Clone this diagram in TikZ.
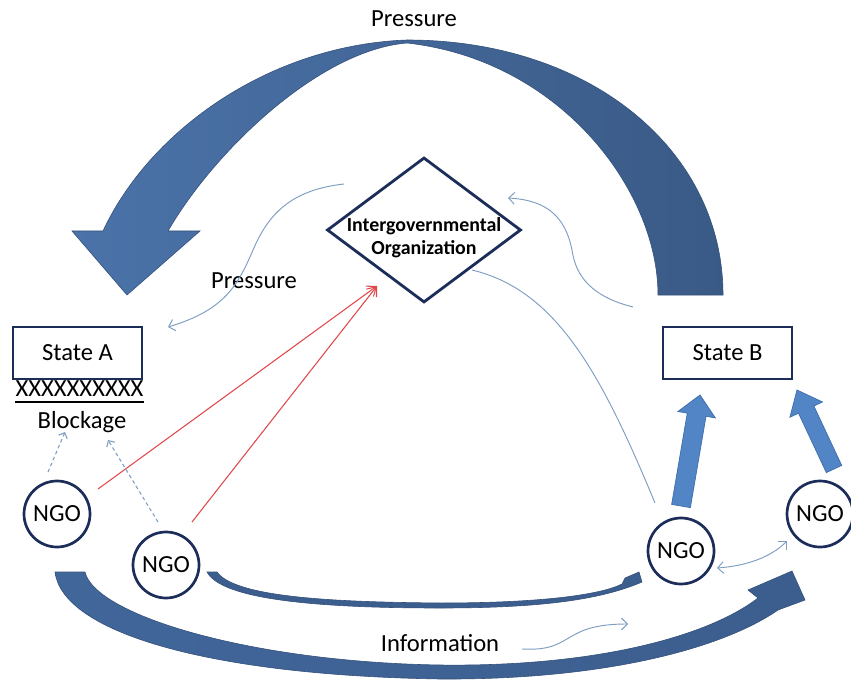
\documentclass[tikz,border=0pt]{standalone}
\usepackage{fontspec}
\setmainfont{Carlito}
\usetikzlibrary{shapes.geometric,calc,arrows.meta}
\definecolor{navy}{HTML}{1C2D5A}
\definecolor{arcL}{HTML}{4B73A9}
\definecolor{arcR}{HTML}{3A5A86}
\definecolor{arcEdge}{HTML}{34507A}
\definecolor{lowL}{HTML}{41669A}
\definecolor{lowR}{HTML}{3C5E8E}
\definecolor{brightblue}{HTML}{5185C6}
\definecolor{brightedge}{HTML}{3E6EAB}
\definecolor{thinblue}{HTML}{7E9DC2}
\definecolor{redline}{HTML}{E0484B}

% block arrow from base #1 to tip #2: shaft half width #3, head half width #4, head length #5
\newcommand\blockarr[5]{%
  \coordinate (hb) at ($(#2)!#5!(#1)$);
  \filldraw[fill=brightblue, draw=brightedge, line width=0.6pt]
    ($(#1)!#3!90:(#2)$) -- ($(hb)!#3!90:(#2)$) -- ($(hb)!#4!90:(#2)$) -- (#2)
    -- ($(hb)!#4!-90:(#2)$) -- ($(hb)!#3!-90:(#2)$) -- ($(#1)!#3!-90:(#2)$) -- cycle;}

\begin{document}
\begin{tikzpicture}[x=0.03cm,y=-0.03cm,
  txt/.style={font=\fontsize{21}{25}\selectfont, inner sep=0pt},
  statebox/.style={draw=navy, line width=2.4pt, minimum width=3.87cm,
    minimum height=1.56cm, inner sep=0pt, font=\fontsize{21}{25}\selectfont},
  ngo/.style={circle, draw=navy, line width=2.3pt, minimum size=1.98cm,
    inner sep=0pt, font=\fontsize{21}{25}\selectfont},
  thinarrow/.style={draw=thinblue, line width=0.8pt,
    -{Straight Barb[length=5pt,width=10pt]}},
  thinline/.style={draw=thinblue, line width=0.8pt},
  dasharrow/.style={draw=thinblue, line width=0.9pt, dash pattern=on 3pt off 2.5pt,
    -{Straight Barb[length=4pt,width=8pt]}},
  redarrow/.style={draw=redline, line width=0.9pt,
    -{Straight Barb[length=7pt,width=11pt]}},
  dualarrow/.style={draw=thinblue, line width=0.8pt,
    {Straight Barb[length=5pt,width=10pt]}-{Straight Barb[length=5pt,width=10pt]}}
]
\fill[white] (0,0) rectangle (851,683);
\useasboundingbox (0,0) rectangle (851,683);

% large curved pressure arrow over the top
\path[left color=arcL, right color=arcR, draw=arcEdge, line width=0.5pt]
  (723,295) .. controls (723,150) and (590,40) .. (407,40)
  .. controls (270,45) and (150,130) .. (103,231)
  -- (72,231) -- (127,295) -- (200,231) -- (168,231)
  .. controls (215,150) and (320,50) .. (407,43)
  .. controls (560,60) and (658,190) .. (658,295) -- cycle;
\node[txt] (ptop) at (414,19) {Pressure};

% lower information arrows
\path[left color=lowL, right color=lowR, draw=arcEdge, line width=0.5pt]
  (55,572) .. controls (62,630) and (200,675) .. (440,679)
  .. controls (600,680) and (720,650) .. (778,610)
  -- (805,600) -- (792,571) -- (748,590) -- (758,598)
  .. controls (710,635) and (600,667) .. (440,665)
  .. controls (250,662) and (95,615) .. (85,572) -- cycle;
\path[fill=lowR, draw=arcEdge, line width=0.5pt]
  (207,572) -- (217,572) .. controls (235,597) and (330,602) .. (440,603)
  .. controls (540,603) and (600,595) .. (622,584) -- (625,578) -- (639,572)
  -- (642,582) .. controls (600,600) and (540,608) .. (440,608)
  .. controls (320,608) and (222,600) .. (207,572) -- cycle;

% organisations
\node[draw=navy, line width=2.4pt, diamond, minimum width=5.82cm,
  minimum height=4.35cm, inner sep=0pt] (igo) at (424,230) {};
\node[font=\fontsize{17}{19.6}\selectfont\bfseries, align=center] (igotext)
  at (424,238) {Intergovernmental\\Organization};

\node[statebox] (sa) at (77.5,353) {State A};
\node[txt] (xx) at (79.5,389) {XXXXXXXXXX};
\draw[line width=1.6pt] ($(xx.south west)+(0,5)$) -- ($(xx.south east)+(0,5)$);
\node[txt] (bl) at (82,422) {Blockage};
\node[statebox] (sb) at (727.5,353) {State B};

\node[ngo] (n1) at (57,514) {NGO};
\node[ngo] (n2) at (166,565) {NGO};
\node[ngo] (n3) at (681,551) {NGO};
\node[ngo] (n4) at (820,514) {NGO};

\node[txt] (pmid) at (254,281) {Pressure};
\node[txt] (info) at (440,643) {Information};

% NGOs lobbying the organisation
\coordinate (igtip) at ($(igo)+(-47,56)$);
\draw[redarrow] ($(n1)+(41,-25)$) -- (igtip);
\draw[redarrow] ($(n2)+(26,-43)$) -- (igtip);

% blocked access to State A
\draw[dasharrow] ($(n1)+(-9,-42)$) -- ($(bl)+(-17,10)$);
\draw[dasharrow] ($(n2)+(-8,-43)$) -- ($(bl)+(26,18)$);

% organisation pressure on State A
\draw[thinarrow] ($(igo)+(-80,-46)$) .. controls (290,190) and (268,215) .. (253,250)
  .. controls (238,285) and (225,310) .. ($(sa)+(90.5,-26)$);
% State B bringing the case to the organisation
\draw[thinarrow] ($(sb)+(-94.5,-46)$) .. controls (585,295) and (575,270) .. (572,250)
  .. controls (565,215) and (545,200) .. ($(igo)+(84,-32)$);
% organisation to NGO
\draw[thinline] ($(igo)+(48,40)$) .. controls (555,290) and (600,370) .. ($(n3)+(-26,-48)$);

% information flow
\draw[thinarrow] ($(info)+(82,6)$) .. controls (575,652) and (560,624) .. ($(n3)+(-53,73)$);
\draw[dualarrow] ($(n3)+(36,17)$) .. controls (745,566) and (770,558) .. ($(n4)+(-33,27)$);

% NGOs pressing State B
\blockarr{$(n3)+(0,-45)$}{$(sb)+(-27.5,42)$}{0.285cm}{0.57cm}{0.6cm}
\blockarr{$(n4)+(14,-45)$}{$(sb)+(69.5,37)$}{0.255cm}{0.54cm}{0.65cm}
\end{tikzpicture}
\end{document}
